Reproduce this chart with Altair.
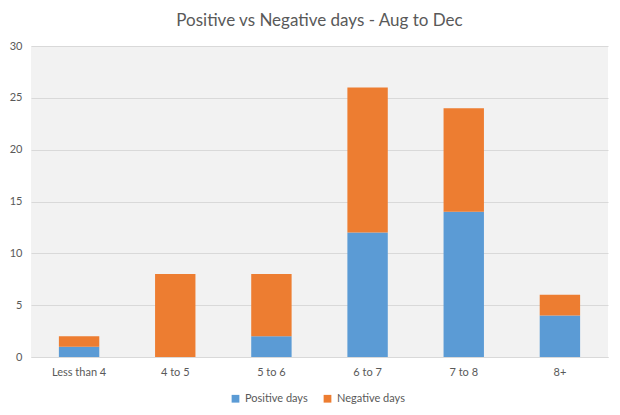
import altair as alt
import pandas as pd

categories = ["Less than 4", "4 to 5", "5 to 6", "6 to 7", "7 to 8", "8+"]
positive = [1, 0, 2, 12, 14, 4]
negative = [1, 8, 6, 14, 10, 2]
series = ["Positive days", "Negative days"]
colors = ["#5b9bd5", "#ed7d31"]

rows = []
for c, p, n in zip(categories, positive, negative):
    rows.append({"cat": c, "series": series[0], "value": p, "ord": 0})
    rows.append({"cat": c, "series": series[1], "value": n, "ord": 1})
df = pd.DataFrame(rows)

FONT = "Lato"

chart = alt.Chart(df).mark_bar().encode(
    x=alt.X("cat:N", sort=categories, title=None,
            scale=alt.Scale(paddingInner=0.58, paddingOuter=0.29),
            axis=alt.Axis(labelAngle=0, ticks=False, domainColor="#d9d9d9",
                          labelColor="#595959", labelFontSize=11, labelFont=FONT,
                          labelPadding=9, grid=False)),
    y=alt.Y("value:Q", stack="zero", title=None,
            scale=alt.Scale(domain=[0, 30]),
            axis=alt.Axis(values=[0, 5, 10, 15, 20, 25, 30], ticks=False, domain=False,
                          gridColor="#d9d9d9", labelColor="#595959", labelFontSize=11,
                          labelFont=FONT, labelPadding=9)),
    color=alt.Color("series:N", scale=alt.Scale(domain=series, range=colors),
                    legend=alt.Legend(title=None, orient="none", direction="horizontal",
                                      legendX=199, legendY=347, symbolType="square",
                                      symbolSize=60, labelFontSize=11, labelFont=FONT,
                                      labelColor="#595959", columnPadding=14,
                                      symbolStrokeWidth=0)),
    order=alt.Order("ord:Q"),
).properties(
    width=577,
    height=311,
    autosize=alt.AutoSizeParams(type="none"),
    padding={"left": 23, "top": 38, "right": 4, "bottom": 50},
    title=alt.TitleParams("Positive vs Negative days - Aug to Dec", fontSize=17,
                          font=FONT, fontWeight="normal", color="#595959", offset=10),
).configure(
    background="white"
).configure_view(
    fill="#f2f2f2", stroke=None
)

chart.save("out.html", embed_options={"renderer": "svg", "actions": False})
